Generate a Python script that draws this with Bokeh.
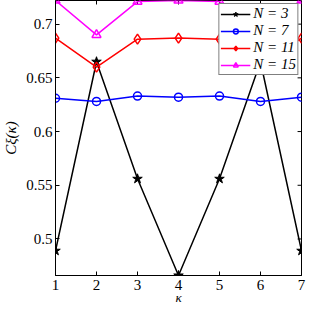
from bokeh.plotting import figure
from bokeh.models import Range1d, FixedTicker, Legend, LegendItem
from bokeh.embed import file_html
from bokeh.resources import INLINE

kappa = [1, 2, 3, 4, 5, 6, 7]
c_n3 = [0.489, 0.665, 0.556, 0.466, 0.556, 0.665, 0.489]
c_n7 = [0.631, 0.628, 0.633, 0.632, 0.633, 0.628, 0.632]
c_n11 = [0.687, 0.660, 0.686, 0.687, 0.686, 0.660, 0.687]
c_n15 = [0.722, 0.690, 0.721, 0.722, 0.721, 0.690, 0.722]
labels = ["N = 3", "N = 7", "N = 11", "N = 15"]
y_ticks = [0.5, 0.55, 0.6, 0.65, 0.7]

FONT = "'Liberation Serif', 'Times New Roman', serif"
x0, x1 = 1, 7
y0, y1 = 0.466, 0.722

p = figure(width=310, height=307, output_backend="svg", toolbar_location=None,
           x_range=Range1d(x0, x1), y_range=Range1d(y0, y1),
           min_border_left=43, min_border_right=9, min_border_top=0, min_border_bottom=28)
p.xgrid.visible = False
p.ygrid.visible = False
p.outline_line_color = "black"
p.outline_line_alpha = 1.0
p.background_fill_color = "white"
p.border_fill_color = "white"

for ax in (p.xaxis[0], p.yaxis[0]):
    ax.major_tick_in = 4
    ax.major_tick_out = 0
    ax.minor_tick_line_color = None
    ax.major_label_text_font = FONT
    ax.major_label_text_font_size = "15px"
    ax.major_label_text_color = "black"
    ax.axis_label_text_font = FONT
    ax.axis_label_text_color = "black"
    ax.axis_line_color = "black"
    ax.major_tick_line_color = "black"

p.xaxis[0].ticker = FixedTicker(ticks=kappa)
p.yaxis[0].ticker = FixedTicker(ticks=y_ticks)
p.yaxis[0].major_label_overrides = {0.5: "0.5", 0.55: "0.55", 0.6: "0.6", 0.65: "0.65", 0.7: "0.7"}
p.xaxis[0].axis_label = "κ"
p.xaxis[0].axis_label_text_font_size = "13px"
p.xaxis[0].axis_label_text_font_style = "italic"
p.xaxis[0].axis_label_standoff = -3
p.xaxis[0].major_label_standoff = 4
p.yaxis[0].axis_label = "Cξ(κ)"
p.yaxis[0].axis_label_text_font_size = "15px"
p.yaxis[0].axis_label_text_font_style = "italic"
p.yaxis[0].axis_label_standoff = 4
p.yaxis[0].major_label_standoff = 3

# inward ticks on the right and top edges
dx = (x1 - x0) * 0.016
dy = (y1 - y0) * 0.0145
p.segment(x0=[x1] * len(y_ticks), y0=y_ticks, x1=[x1 - dx] * len(y_ticks), y1=y_ticks,
          line_color="black", line_width=1)
p.segment(x0=kappa, y0=[y1] * len(kappa), x1=kappa, y1=[y1 - dy] * len(kappa),
          line_color="black", line_width=1)

l3 = p.line(kappa, c_n3, line_color="black", line_width=1.5)
m3 = p.scatter(kappa, c_n3, marker="star", size=10, fill_color="black", line_color="black")
l7 = p.line(kappa, c_n7, line_color="#0000ff", line_width=1.5)
m7 = p.scatter(kappa, c_n7, marker="circle", size=8, fill_color=None, line_color="#0000ff", line_width=1.5)
l11 = p.line(kappa, c_n11, line_color="#ff0000", line_width=1.5)
m11 = p.scatter(kappa, c_n11, marker="diamond", size=10, fill_color=None, line_color="#ff0000", line_width=1.5)
l15 = p.line(kappa, c_n15, line_color="#ff00ff", line_width=1.5)
m15 = p.scatter(kappa, c_n15, marker="triangle", size=9, fill_color=None, line_color="#ff00ff", line_width=1.5)

legend = Legend(items=[LegendItem(label=labels[0], renderers=[l3, m3]),
                       LegendItem(label=labels[1], renderers=[l7, m7]),
                       LegendItem(label=labels[2], renderers=[l11, m11]),
                       LegendItem(label=labels[3], renderers=[l15, m15])],
                location="top_right", label_text_font=FONT, label_text_font_size="15px",
                label_text_font_style="italic", label_text_color="black",
                glyph_width=30, glyph_height=12, label_height=12, spacing=-3, padding=1,
                margin=3, label_standoff=3, border_line_color="black", border_line_width=1,
                background_fill_alpha=1.0)
p.add_layout(legend)

open("out.html", "w").write(file_html(p, INLINE))
